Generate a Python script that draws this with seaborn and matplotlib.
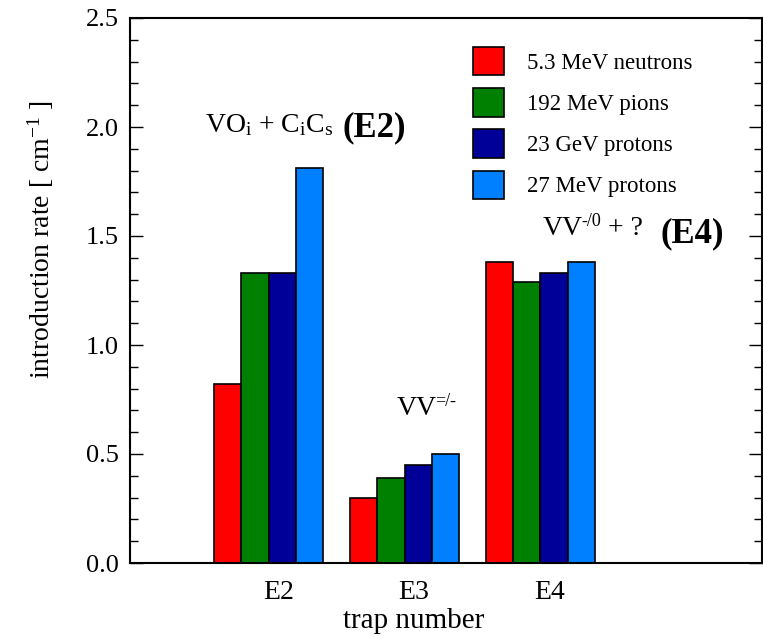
import numpy as np
import pandas as pd
import matplotlib
matplotlib.use("Agg")
import matplotlib.pyplot as plt
import seaborn as sns
from matplotlib.ticker import MultipleLocator, FormatStrFormatter

traps = ["E2", "E3", "E4"]
sources = ["5.3 MeV neutrons", "192 MeV pions", "23 GeV protons", "27 MeV protons"]
neutrons = [0.82, 0.30, 1.38]
pions = [1.33, 0.39, 1.29]
gev_protons = [1.33, 0.45, 1.33]
mev_protons = [1.81, 0.50, 1.38]
colors = ["#FF0000", "#008000", "#000099", "#0080FF"]

series = [neutrons, pions, gev_protons, mev_protons]
df = pd.DataFrame({
    "trap": [t for s in series for t in traps],
    "source": [src for src, s in zip(sources, series) for _ in traps],
    "rate": [v for s in series for v in s],
})

sns.set_style("ticks")
plt.rcParams["font.family"] = ["Liberation Serif", "DejaVu Serif"]
plt.rcParams["mathtext.default"] = "regular"
for k in ["text.color", "axes.labelcolor", "xtick.color", "ytick.color", "axes.edgecolor"]:
    plt.rcParams[k] = "black"

fig = plt.figure(figsize=(7.63, 6.39), dpi=100)
ax = fig.add_axes([130 / 763, 1 - 563 / 639, 632 / 763, 545 / 639])

sns.barplot(data=df, x="trap", y="rate", hue="source", hue_order=sources,
            order=traps, palette=dict(zip(sources, colors)), saturation=1,
            edgecolor="black", linewidth=1.2, width=0.8, ax=ax, legend=False)

ax.set_xlim(-1.02, 3.63)
ax.set_ylim(0, 2.5)
ax.set_xticks(np.arange(len(traps)) + 0.07)
ax.set_xticklabels(traps, fontsize=20)
ax.tick_params(axis="x", length=0, pad=12)
ax.yaxis.set_major_locator(MultipleLocator(0.5))
ax.yaxis.set_minor_locator(MultipleLocator(0.1))
ax.yaxis.set_major_formatter(FormatStrFormatter("%.1f"))
ax.tick_params(axis="y", which="major", direction="in", length=9.5, width=1,
               left=True, right=True, labelsize=19, pad=8)
ax.tick_params(axis="y", which="minor", direction="in", length=5.5, width=1,
               left=True, right=True)
for sp in ax.spines.values():
    sp.set_linewidth(1.5)
    sp.set_color("black")
    sp.set_visible(True)

ax.set_xlabel("trap number", fontsize=21)
ax.xaxis.set_label_coords(0.448, -0.083)
ax.set_ylabel("introduction rate [ cm$^{-1}$ ]", fontsize=20)
ax.yaxis.set_label_coords(-0.117, 0.593)

handles = [plt.Rectangle((0, 0), 1, 1, facecolor=c, edgecolor="black", linewidth=1.2)
           for c in colors]
ax.legend(handles, sources, loc="upper left", bbox_to_anchor=(0.543, 0.947),
          frameon=False, fontsize=16.5, handlelength=1.36, handleheight=1.53,
          labelspacing=0.56, handletextpad=0.98, borderaxespad=0, borderpad=0)

ax.text(0.119, 0.791, "VO$_i$ + C$_i$C$_s$", transform=ax.transAxes,
        fontsize=20, ha="left", va="baseline")
ax.text(0.337, 0.782, "(E2)", transform=ax.transAxes, fontsize=25,
        fontweight="bold", ha="left", va="baseline")

vv3 = ax.text(0.422, 0.272, "VV", transform=ax.transAxes,
              fontsize=20, ha="left", va="baseline")
ax.annotate("=/-", xy=(1, 1), xycoords=vv3, xytext=(-1, 2), textcoords="offset points",
            fontsize=13, ha="left", va="top")

vv4 = ax.text(0.653, 0.602, "VV", transform=ax.transAxes,
              fontsize=20, ha="left", va="baseline")
sup4 = ax.annotate("-/0", xy=(1, 1), xycoords=vv4, xytext=(-1, 2), textcoords="offset points",
                   fontsize=13, ha="left", va="top")
ax.annotate(" + ?", xy=(1, 0), xycoords=(sup4, vv4), xytext=(0, 0),
            textcoords="offset points", fontsize=20, ha="left", va="bottom")
ax.text(0.839, 0.589, "(E4)", transform=ax.transAxes, fontsize=25,
        fontweight="bold", ha="left", va="baseline")

fig.savefig("out.png", dpi=100)
